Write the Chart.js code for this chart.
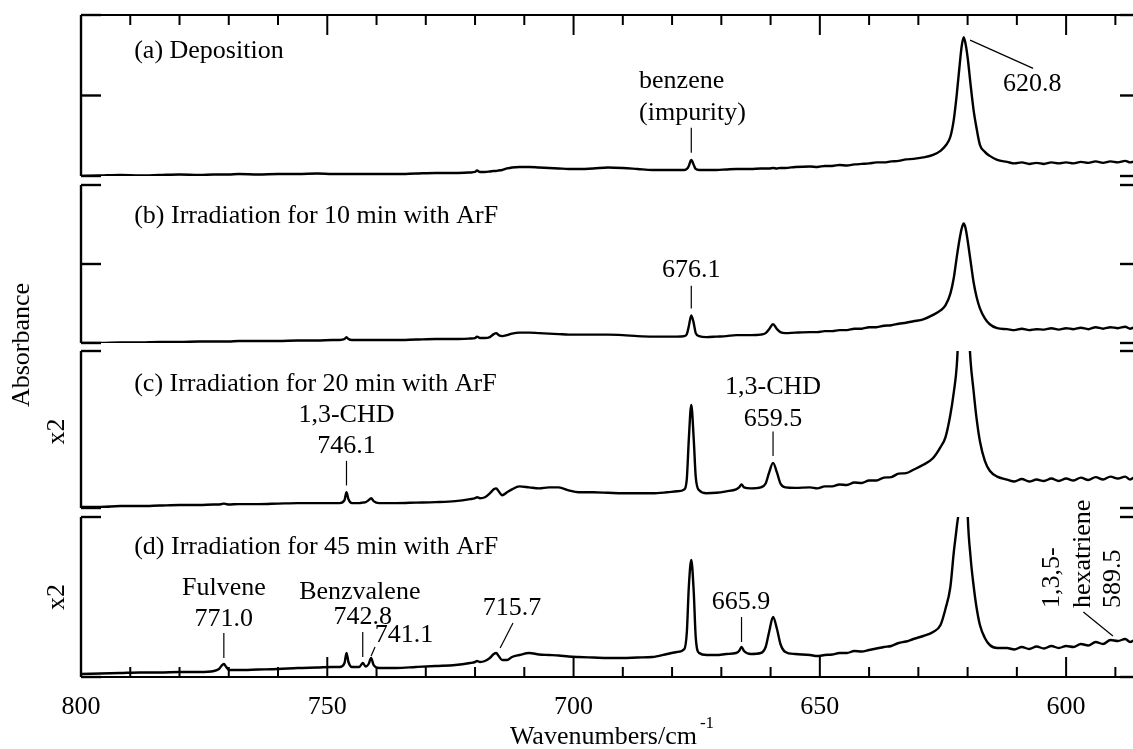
<!DOCTYPE html>
<html>
<head>
<meta charset="utf-8">
<script src="https://cdn.jsdelivr.net/npm/chart.js@4.4.1/dist/chart.umd.min.js"></script>
<style>
  html, body { margin: 0; padding: 0; background: #fff; overflow: hidden; width: 1133px; height: 749px; }
  canvas { position: absolute; left: 0; top: 0; }
</style>
</head>
<body>
<canvas id="panelA" width="1160" height="749"></canvas>
<canvas id="panelB" width="1160" height="749"></canvas>
<canvas id="panelC" width="1160" height="749"></canvas>
<canvas id="panelD" width="1160" height="749"></canvas>
<script>
// wavenumbers (cm-1), shared by all four spectra
const wavenumbers = [
  800, 796, 792, 788, 784, 780, 776, 773, 772, 771.5,
  771, 770.5, 770, 768, 764, 760, 756, 752, 749, 747.5,
  746.5, 746.1, 745.7, 745, 743.5, 742.8, 742.2, 741.6, 741.1, 740.6,
  739.5, 736, 732, 728, 724, 721, 720, 719.6, 719, 718,
  717, 716.2, 715.7, 715.2, 714.5, 713.5, 712.5, 711, 709, 707,
  705, 703, 701, 699, 696, 693, 690, 687, 684, 681,
  679, 677.5, 677, 676.6, 676.1, 675.6, 675.2, 674.5, 673, 671,
  669, 667, 666.4, 665.9, 665.4, 664, 662, 661, 660.3, 659.5,
  658.7, 658, 657, 655, 652, 650.5, 649, 647.5, 646, 644.5,
  643, 641.5, 640, 638.5, 637, 635.5, 634, 632.5, 631, 629,
  627, 625.5, 624.5, 623.5, 622.8, 622.2, 621.6, 621.2, 620.8, 620.4,
  620, 619.4, 618.8, 618.2, 617.5, 616.5, 615.5, 614, 612, 610.5,
  609, 607.5, 606, 604.5, 603, 601.5, 600, 598.5, 597, 595.5,
  594, 592.5, 591, 589.5, 588, 587, 586, 585
];

// absorbance in mAbs (c and d already multiplied by 2)
const absA = [
  0, 0.5, 1, 0.5, 1, 1.5, 1, 1.5, 1.5, 1.5,
  1.5, 1.5, 1.5, 2, 1.5, 2, 2, 2.5, 2, 2,
  2, 2, 2, 2, 2, 2, 2, 2, 2, 2,
  2, 2, 2.5, 3, 3, 3.5, 4, 5.5, 4, 4,
  4.5, 5, 5, 5.5, 6, 7.5, 8.5, 9, 9, 8.5,
  8, 7.5, 7, 7, 7.5, 8.5, 8, 7, 6, 6,
  6, 6, 7, 10, 16, 11, 7, 6, 6, 6,
  6.5, 7, 7, 7, 7, 7, 7.5, 7.5, 7.5, 8,
  7.5, 8, 8, 9, 9.5, 9, 10, 10, 11, 10.5,
  11.5, 12, 12.5, 13.5, 13.5, 14.5, 15, 16.5, 17, 18.5,
  21, 25, 30, 39, 56, 81, 111, 129, 138, 131,
  118, 91, 66, 48, 31, 24, 20, 16, 14, 12.5,
  13.5, 12, 13, 12, 13.5, 12.5, 13.5, 12.5, 14, 13,
  14.5, 13, 14.5, 13.5, 15, 13.5, 14.5, 14
];
const absB = [
  0, 0, 0.5, 0.5, 1, 1, 1.5, 1.5, 1.5, 1.5,
  1.5, 1.5, 1.5, 2, 2, 2, 2.5, 2.5, 3, 3,
  4, 6, 4, 3, 3, 3, 3, 3, 3, 3,
  3, 3, 3.5, 4, 4, 4.5, 5, 6.5, 5, 5,
  6, 9, 10, 8, 7, 8, 9.5, 10.5, 10.5, 10,
  9.5, 9, 8.5, 8.5, 8.5, 8.5, 8, 7, 6.5, 6.5,
  6.5, 7, 9, 17, 28, 20, 10, 7, 6, 6.5,
  7, 8, 8, 8, 8, 8, 8.5, 10, 14, 19,
  14, 11, 10, 10.5, 11, 11, 12, 12, 13, 13,
  14.5, 14.5, 16, 16, 17.5, 18, 19.5, 20.5, 22, 24,
  28.5, 33, 38, 50, 66, 87, 106, 116, 121, 116,
  104, 83, 62, 47, 35, 25, 19, 15, 14, 13,
  14.5, 13, 14, 13.5, 15, 13.5, 15, 14, 15.5, 14,
  16, 14.5, 16, 15, 16.5, 14.5, 16, 15
];
const absC_x2 = [
  1, 1, 2, 2, 2.5, 3, 3, 3.5, 3.5, 4,
  4.5, 4, 3.5, 4, 4, 4.5, 5, 5, 5, 5,
  8, 16, 9, 5, 5, 5.5, 6, 8, 10, 7,
  5, 5, 5.5, 6, 7, 9, 10, 11, 10, 11,
  15, 19, 20, 17, 13, 16, 19, 22, 21, 20,
  21, 21, 18, 16, 16, 15.5, 15, 15, 15, 16,
  17, 19, 30, 70, 105, 70, 32, 18, 15, 15.5,
  17, 19, 21, 24, 21, 20, 21, 25, 36, 46,
  36, 25, 21, 20.5, 21, 20, 22, 22, 24, 23.5,
  26, 25.5, 28, 28, 31, 31.5, 35, 35.5, 39, 44,
  51, 62, 72, 95, 118, 145, 205, 245, 260, 245,
  205, 150, 120, 92, 68, 48, 38, 32, 29, 27,
  29.5, 27, 29, 27.5, 30, 27.5, 30, 28, 31, 28.5,
  31.5, 29, 32, 30, 32, 29, 31.5, 30
];
const absD_x2 = [
  3, 3.5, 4, 4.5, 4.5, 5, 5, 6, 8, 11,
  13, 10, 7, 7, 7.5, 8, 9, 9.5, 10, 10,
  14, 24, 15, 10, 10, 14, 10.5, 13, 19, 12,
  9, 9, 10, 11, 12, 14, 15, 16, 15, 16,
  19, 23, 24, 21, 17, 17, 20, 22, 24, 22.5,
  22, 21.5, 20.5, 20, 19.5, 19, 19, 19.5, 20, 23,
  25, 28, 45, 90, 117, 85, 40, 24, 22, 22,
  23, 24, 26, 30, 26, 23, 24, 30, 45, 60,
  48, 33, 25, 23, 22, 21, 22, 22.5, 24, 24,
  26, 25.5, 27, 28.5, 30, 31, 34, 35.5, 38, 41,
  45, 52, 68, 90, 125, 150, 180, 240, 270, 250,
  165, 120, 92, 70, 52, 39, 32, 29, 29, 27.5,
  30, 28, 30.5, 28.5, 31, 29, 31, 30, 33, 31.5,
  35, 33, 37, 36, 38, 35, 37, 35
];

const xMinorTicks = [800, 790, 780, 770, 760, 750, 740, 730, 720, 710, 700, 690, 680, 670, 660, 650, 640, 630, 620, 610, 600, 590];
const xTickLabels = [800, 750, 700, 650, 600];
const yTicksFull = [0, 80, 160];
const yTicksX2 = [0, 160];

const FONT = '"Liberation Serif", "Times New Roman", serif';

function seg(ctx, x1, y1, x2, y2) {
  ctx.beginPath();
  ctx.moveTo(x1, y1);
  ctx.lineTo(x2, y2);
  ctx.stroke();
}

function vtext(ctx, text, x, y, align) {
  ctx.save();
  ctx.translate(x, y);
  ctx.rotate(-Math.PI / 2);
  ctx.textAlign = align;
  ctx.textBaseline = 'middle';
  ctx.fillText(text, 0, 0);
  ctx.restore();
}

const framePlugin = {
  id: 'frame',
  afterDatasetsDraw(chart, args, opts) {
    const { ctx, chartArea: area } = chart;
    const x = chart.scales.x, y = chart.scales.y;
    ctx.save();
    ctx.strokeStyle = '#000';
    ctx.fillStyle = '#000';
    ctx.lineWidth = 2.4;

    // left axis and inward ticks on both sides
    seg(ctx, area.left, area.top, area.left, area.bottom);
    opts.yTicks.forEach(v => {
      const py = y.getPixelForValue(v);
      seg(ctx, area.left, py, area.left + 20, py);
      seg(ctx, area.right - 20, py, area.right, py);
    });

    // wavenumber axis (top for panel a, bottom for panel d)
    if (opts.axis) {
      const py = opts.axis === 'top' ? area.top : area.bottom;
      const dir = opts.axis === 'top' ? 1 : -1;
      ctx.lineWidth = 2;
      seg(ctx, area.left, py, area.right, py);
      xMinorTicks.forEach(v => {
        const px = x.getPixelForValue(v);
        const len = xTickLabels.includes(v) ? 20 : 10;
        seg(ctx, px, py, px, py + dir * len);
      });
      if (opts.axis === 'bottom') {
        ctx.font = '26px ' + FONT;
        ctx.textAlign = 'center';
        ctx.textBaseline = 'middle';
        xTickLabels.forEach(v => ctx.fillText(String(v), x.getPixelForValue(v), area.bottom + 30));
        const main = 'Wavenumbers/cm';
        const wMain = ctx.measureText(main).width;
        ctx.font = '17px ' + FONT;
        const wSup = ctx.measureText('-1').width;
        const left = (area.left + area.right) / 2 - (wMain + wSup) / 2;
        ctx.textAlign = 'left';
        ctx.fillText('-1', left + wMain + 3, area.bottom + 47);
        ctx.font = '26px ' + FONT;
        ctx.fillText(main, left, area.bottom + 60);
      }
    }

    ctx.font = '26px ' + FONT;
    ctx.textBaseline = 'middle';

    // panel title
    ctx.textAlign = 'left';
    ctx.fillText(opts.title, x.getPixelForValue(opts.titleAt[0]), y.getPixelForValue(opts.titleAt[1]));

    // side labels
    if (opts.scaleNote) {
      vtext(ctx, opts.scaleNote, area.left - 24, y.getPixelForValue(opts.scaleNoteAt), 'center');
    }
    if (opts.yTitle) {
      vtext(ctx, opts.yTitle.text, opts.yTitle.x, opts.yTitle.y, 'center');
    }

    // peak annotations
    (opts.notes || []).forEach(n => {
      const px = x.getPixelForValue(n.at[0]);
      const py = y.getPixelForValue(n.at[1]);
      n.lines.forEach((t, i) => {
        if (n.rotate) {
          vtext(ctx, t, px + i * 30.5, py, 'left');
        } else {
          ctx.textAlign = n.align || 'center';
          ctx.fillText(t, px, py + i * 31.5);
        }
      });
      if (n.lead) {
        ctx.lineWidth = 1.2;
        seg(ctx, x.getPixelForValue(n.lead[0][0]), y.getPixelForValue(n.lead[0][1]),
                 x.getPixelForValue(n.lead[1][0]), y.getPixelForValue(n.lead[1][1]));
      }
    });
    ctx.restore();
  }
};

function makeChart(id, values, top, bottom, frame) {
  return new Chart(document.getElementById(id), {
    type: 'line',
    data: {
      datasets: [{
        data: wavenumbers.map((w, i) => ({ x: w, y: values[i] })),
        borderColor: '#000',
        borderWidth: 2.4,
        pointRadius: 0,
        cubicInterpolationMode: 'monotone',
        fill: false
      }]
    },
    options: {
      responsive: false,
      animation: false,
      devicePixelRatio: 1,
      events: [],
      layout: { autoPadding: false, padding: { left: 81, right: 20, top: top, bottom: 749 - bottom } },
      scales: {
        x: { type: 'linear', reverse: true, min: 585, max: 800, display: false },
        y: { type: 'linear', min: 0, max: 160, display: false }
      },
      plugins: { legend: { display: false }, tooltip: { enabled: false }, frame: frame }
    },
    plugins: [framePlugin]
  });
}

makeChart('panelA', absA, 15, 176, {
  axis: 'top',
  yTicks: yTicksFull,
  title: '(a) Deposition',
  titleAt: [789.2, 124],
  notes: [
    { lines: ['benzene', '(impurity)'], at: [686.7, 94], align: 'left', lead: [[676.1, 48], [676.1, 23]] },
    { lines: ['620.8'], at: [606.9, 91], lead: [[619.5, 135], [606.7, 107]] }
  ]
});

makeChart('panelB', absB, 185, 343, {
  yTicks: yTicksFull,
  title: '(b) Irradiation for 10 min with ArF',
  titleAt: [789.2, 128],
  yTitle: { text: 'Absorbance', x: 22, y: 345 },
  notes: [
    { lines: ['676.1'], at: [676.1, 74], lead: [[676.1, 58], [676.1, 35]] }
  ]
});

makeChart('panelC', absC_x2, 351, 508, {
  yTicks: yTicksX2,
  title: '(c) Irradiation for 20 min with ArF',
  titleAt: [789.2, 126],
  scaleNote: 'x2',
  scaleNoteAt: 78,
  notes: [
    { lines: ['1,3-CHD', '746.1'], at: [746.1, 95], lead: [[746.1, 48], [746.1, 23]] },
    { lines: ['1,3-CHD', '659.5'], at: [659.5, 123], lead: [[659.5, 78], [659.5, 53]] }
  ]
});

makeChart('panelD', absD_x2, 517, 677, {
  axis: 'bottom',
  yTicks: yTicksX2,
  title: '(d) Irradiation for 45 min with ArF',
  titleAt: [789.2, 130],
  scaleNote: 'x2',
  scaleNoteAt: 80,
  notes: [
    { lines: ['Fulvene', '771.0'], at: [771.0, 89], lead: [[771.0, 44], [771.0, 19]] },
    { lines: ['Benzvalene'], at: [743.4, 85] },
    { lines: ['742.8'], at: [742.8, 60], lead: [[742.8, 45], [742.8, 20]] },
    { lines: ['741.1'], at: [734.4, 42], lead: [[741.1, 21], [740.3, 30]] },
    { lines: ['715.7'], at: [712.5, 69], lead: [[714.9, 29], [712.3, 54]] },
    { lines: ['665.9'], at: [666.0, 75], lead: [[665.9, 35], [665.9, 60]] },
    { lines: ['1,3,5-', 'hexatriene', '589.5'], at: [602.8, 69], rotate: true, lead: [[596.5, 65], [590.5, 41]] }
  ]
});
</script>
</body>
</html>
